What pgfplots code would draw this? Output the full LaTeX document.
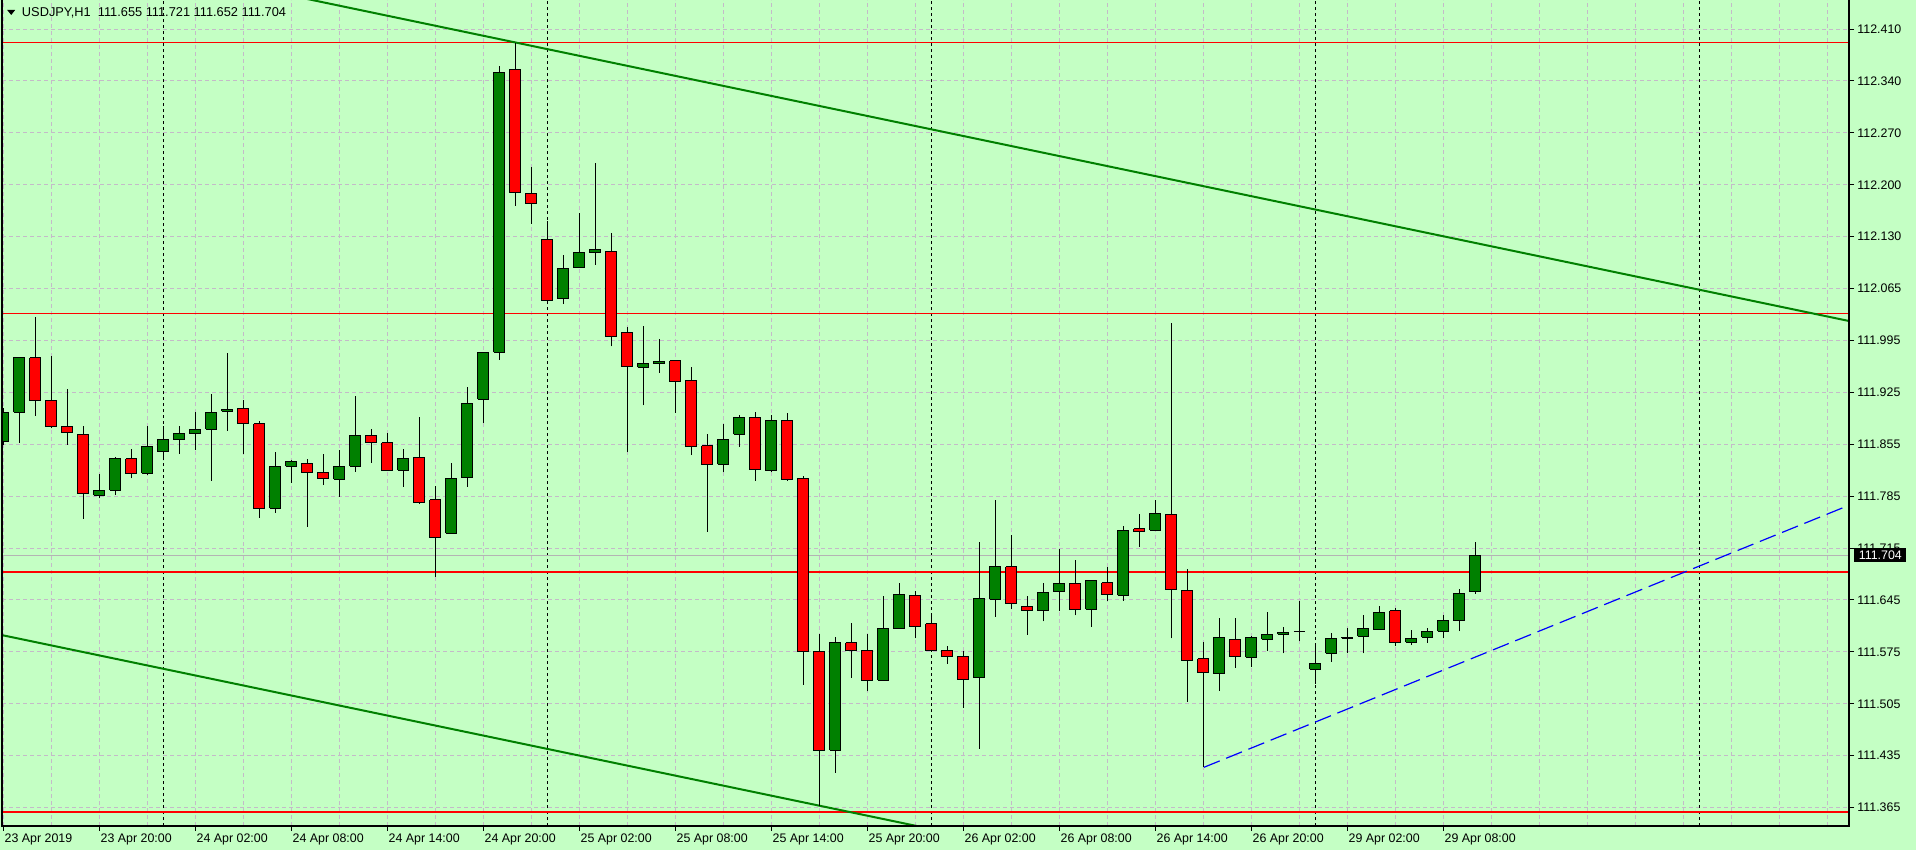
\documentclass[border=0pt]{standalone}
\usepackage{fontspec}
\setmainfont{Liberation Sans}
\usepackage{pgfplots}
\usepackage{pgfplotstable}
\pgfplotsset{compat=1.18}
\definecolor{bgc}{RGB}{196,255,196}
\definecolor{cgreen}{RGB}{0,128,0}
\definecolor{gridc}{RGB}{196,186,200}
\definecolor{curc}{RGB}{180,180,180}

\pgfplotstableread{
i O H L C
0 111.857 111.902 111.852 111.896
1 111.896 111.970 111.855 111.969
2 111.969 112.023 111.891 111.912
3 111.912 111.971 111.874 111.877
4 111.877 111.927 111.852 111.869
5 111.866 111.877 111.753 111.786
6 111.784 111.813 111.780 111.791
7 111.791 111.835 111.785 111.833
8 111.833 111.846 111.807 111.814
9 111.814 111.877 111.812 111.850
10 111.843 111.877 111.831 111.859
11 111.859 111.877 111.840 111.867
12 111.867 111.896 111.845 111.873
13 111.873 111.920 111.804 111.896
14 111.897 111.975 111.871 111.900
15 111.901 111.912 111.840 111.881
16 111.880 111.884 111.754 111.767
17 111.767 111.842 111.761 111.823
18 111.823 111.831 111.801 111.830
19 111.827 111.833 111.742 111.815
20 111.815 111.839 111.798 111.807
21 111.806 111.845 111.782 111.823
22 111.823 111.917 111.816 111.865
23 111.865 111.873 111.828 111.855
24 111.855 111.868 111.817 111.818
25 111.818 111.846 111.796 111.834
26 111.835 111.889 111.773 111.775
27 111.778 111.797 111.675 111.728
28 111.733 111.827 111.733 111.807
29 111.808 111.930 111.796 111.907
30 111.913 111.976 111.881 111.976
31 111.976 112.360 111.966 112.352
32 112.356 112.391 112.173 112.191
33 112.190 112.225 112.149 112.176
34 112.128 112.152 112.041 112.046
35 112.048 112.107 112.041 112.089
36 112.090 112.163 112.090 112.110
37 112.110 112.230 112.094 112.114
38 112.112 112.136 111.984 111.997
39 112.003 112.010 111.842 111.957
40 111.956 112.012 111.905 111.961
41 111.961 111.994 111.949 111.964
42 111.965 111.965 111.895 111.937
43 111.939 111.956 111.838 111.850
44 111.851 111.867 111.735 111.826
45 111.826 111.880 111.815 111.859
46 111.866 111.892 111.849 111.889
47 111.889 111.896 111.804 111.819
48 111.817 111.892 111.815 111.885
49 111.885 111.895 111.804 111.806
50 111.807 111.810 111.530 111.575
51 111.575 111.598 111.367 111.442
52 111.442 111.594 111.412 111.586
53 111.586 111.613 111.539 111.576
54 111.576 111.598 111.521 111.536
55 111.536 111.649 111.536 111.605
56 111.605 111.667 111.605 111.651
57 111.650 111.656 111.592 111.608
58 111.612 111.625 111.576 111.576
59 111.576 111.582 111.558 111.568
60 111.568 111.575 111.499 111.537
61 111.539 111.721 111.444 111.646
62 111.645 111.778 111.621 111.688
63 111.688 111.731 111.631 111.639
64 111.635 111.649 111.597 111.629
65 111.629 111.666 111.615 111.654
66 111.655 111.712 111.629 111.666
67 111.666 111.697 111.623 111.631
68 111.631 111.670 111.608 111.670
69 111.667 111.688 111.643 111.651
70 111.650 111.743 111.643 111.737
71 111.739 111.759 111.715 111.736
72 111.737 111.778 111.737 111.760
73 111.759 112.016 111.592 111.658
74 111.657 111.685 111.507 111.563
75 111.565 111.587 111.420 111.547
76 111.545 111.619 111.522 111.594
77 111.591 111.620 111.553 111.568
78 111.567 111.596 111.554 111.594
79 111.591 111.627 111.575 111.598
80 111.598 111.608 111.572 111.600
81 111.601 111.642 111.588 111.601
82 111.551 111.584 111.531 111.559
83 111.572 111.600 111.561 111.592
84 111.592 111.606 111.572 111.594
85 111.595 111.624 111.572 111.606
86 111.604 111.635 111.604 111.627
87 111.629 111.633 111.582 111.587
88 111.587 111.604 111.583 111.592
89 111.594 111.606 111.586 111.602
90 111.602 111.623 111.592 111.616
91 111.616 111.658 111.602 111.653
92 111.655 111.721 111.652 111.704
}\candles

\begin{document}
\begin{tikzpicture}
\useasboundingbox (0,0) rectangle (958bp,425bp);
\fill[bgc] (0,0) rectangle (958bp,425bp);
\begin{axis}[
  name=ax, at={(1bp,12bp)}, anchor=south west,
  width=923.5bp, height=413bp, scale only axis,
  xmin=-0.08125, xmax=115.356, ymin=111.3403, ymax=112.44912,
  axis line style={draw=none},
  tick align=outside, major tick length=2.5bp, minor tick length=0pt,
  tick style={black, line width=0.5bp},
  xtick pos=left, ytick pos=right, yticklabel pos=right,
  xtick={0,6,...,90},
  xticklabels={23 Apr 2019, 23 Apr 20:00, 24 Apr 02:00, 24 Apr 08:00, 24 Apr 14:00, 24 Apr 20:00, 25 Apr 02:00, 25 Apr 08:00, 25 Apr 14:00, 25 Apr 20:00, 26 Apr 02:00, 26 Apr 08:00, 26 Apr 14:00, 26 Apr 20:00, 29 Apr 02:00, 29 Apr 08:00},
  minor xtick={3,6,...,114},
  ytick={111.365,111.43467,111.50434,111.57401,111.64368,111.71335,111.78302,111.85269,111.92236,111.99203,112.0617,112.13137,112.20104,112.27071,112.34038,112.41005},
  yticklabels={111.365,111.435,111.505,111.575,111.645,111.715,111.785,111.855,111.925,111.995,112.065,112.130,112.200,112.270,112.340,112.410},
  grid=both,
  major grid style={gridc, line width=0.5bp, dash pattern=on 2bp off 1.5bp},
  minor grid style={gridc, line width=0.5bp, dash pattern=on 2bp off 1.5bp},
  extra x ticks={10,34,58,82,106},
  extra x tick labels={},
  extra x tick style={grid=major, major tick length=0pt, major grid style={black, line width=0.5bp, dash pattern=on 1.5bp off 1.5bp}},
  ticklabel style={font=\fontsize{6.2bp}{7bp}\selectfont, inner sep=0pt},
  xticklabel style={anchor=north west, xshift=0.5bp, yshift=-1.1bp},
  yticklabel style={anchor=west, xshift=1.5bp},
]
% horizontal levels
\addplot[red, line width=0.5bp, forget plot] coordinates {(-1,112.3914) (116,112.3914)};
\addplot[red, line width=0.5bp, forget plot] coordinates {(-1,112.0289) (116,112.0289)};
\addplot[curc, line width=0.5bp, forget plot] coordinates {(-1,111.704) (116,111.704)};
\addplot[red, line width=1bp, forget plot] coordinates {(-1,111.6817) (116,111.6817)};
\addplot[red, line width=1bp, forget plot] coordinates {(-1,111.3591) (116,111.3591)};
% channel lines
\addplot[cgreen, line width=1bp, forget plot] coordinates {(15,112.4684) (115.356,112.0182)};
\addplot[cgreen, line width=1bp, forget plot] coordinates {(-0.206,111.5971) (59.79,111.3282)};
\addplot[blue, line width=0.6bp, dash pattern=on 8.5bp off 3.5bp, forget plot] coordinates {(75.04,111.4191) (115.04,111.7681)};
% candles
\pgfplotsinvokeforeach{0,...,92}{
  \pgfplotstablegetelem{#1}{O}\of\candles \let\cO\pgfplotsretval
  \pgfplotstablegetelem{#1}{H}\of\candles \let\cH\pgfplotsretval
  \pgfplotstablegetelem{#1}{L}\of\candles \let\cL\pgfplotsretval
  \pgfplotstablegetelem{#1}{C}\of\candles \let\cC\pgfplotsretval
  \pgfmathsetmacro\xl{#1-0.34}
  \pgfmathsetmacro\xr{#1+0.34}
  \ifdim\cC pt<\cO pt \def\col{red}\else\def\col{cgreen}\fi
  \edef\doplot{%
    \noexpand\addplot[black, line width=0.6bp, forget plot] coordinates {(#1,\cL) (#1,\cH)};
    \noexpand\addplot[draw=black, fill=\col, line width=0.5bp, forget plot] coordinates {(\xl,\cO) (\xr,\cO) (\xr,\cC) (\xl,\cC) (\xl,\cO)};
  }%
  \doplot
}
\coordinate (cur) at (axis cs:115.356,111.704);
\end{axis}
\draw[black, line width=0.6bp] (ax.north west) -- (ax.south west) -- (ax.south east) -- (ax.north east);
\fill[black] (3.6bp,420bp) -- (7.6bp,420bp) -- (5.6bp,417.5bp) -- cycle;
\node[anchor=base west, inner sep=0pt, font=\fontsize{6.4bp}{7bp}\selectfont] at (10.8bp,416.65bp) {USDJPY,H1\ \ 111.655 111.721 111.652 111.704};
\node[fill=black, text=white, anchor=west, inner xsep=2.2bp, inner ysep=1.2bp, font=\fontsize{6.2bp}{7bp}\selectfont] at ([xshift=2.5bp]cur) {111.704};
\end{tikzpicture}
\end{document}
